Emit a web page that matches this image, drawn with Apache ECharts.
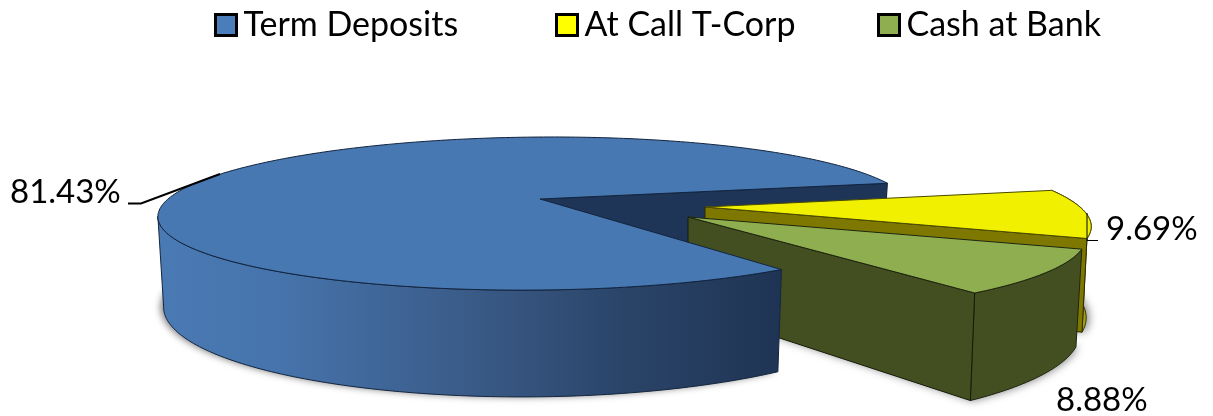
<!DOCTYPE html>
<html>
<head>
<meta charset="utf-8">
<style>html,body{margin:0;padding:0;background:#fff}#c{width:1213px;height:416px}</style>
<script src="https://cdn.jsdelivr.net/npm/echarts@6/dist/echarts.min.js"></script>
</head>
<body>
<div id="c"></div>
<script>
var categories = ['Term Deposits', 'At Call T-Corp', 'Cash at Bank'];
var termDeposits = [81.43];
var atCallTCorp = [9.69];
var cashAtBank = [8.88];
var startAngle = 54;

var FONT = 'Lato, "Open Sans", sans-serif';
var geo = {
  blue:  {ax:540, ay:199, Rr:368, Rl:372, A:73.8, k:0.19, s:-0.2, H:86.5, b:0.985},
  yellow:{ax:705, ay:207, Rr:375, Rl:375, A:78,   k:0.19, s:0.244,H:87, b:0.987},
  green: {ax:688, ay:217, Rr:387, Rl:387, A:79.5, k:0.19, s:0.235,H:91, b:0.985}
};
function pt(g, deg, bottom, r) {
  var a = deg * Math.PI / 180, rr = r === undefined ? 1 : r;
  var u = rr * Math.cos(a), v = rr * Math.sin(a), w = 1 - g.k * v;
  var dy = g.A * v / w;
  var x = (u < 0 ? g.Rl : g.Rr) * u / w + g.s * dy;
  if (bottom) return [g.ax + x * g.b, g.ay + dy + g.H / w];
  return [g.ax + x, g.ay + dy];
}
function arc(g, a, b, bottom) {
  var out = [], n = Math.max(4, Math.ceil(Math.abs(b - a)));
  for (var i = 0; i <= n; i++) out.push(pt(g, a + (b - a) * i / n, bottom));
  return out;
}
function leftmost(g, bottom) {
  var best = 150, bx = Infinity;
  for (var d = 150; d <= 240; d++) { var x = pt(g, d, bottom)[0]; if (x < bx) { bx = x; best = d; } }
  return best;
}
function poly(points, style) { return {type:'polygon', shape:{points:points}, style:style}; }
function line(points, color, width) {
  return {type:'polyline', shape:{points:points}, style:{fill:null, stroke:color, lineWidth:width}};
}
function txt(text, x, y, size) {
  return {type:'text', style:{text:text, x:x, y:y, fill:'#000', font:size + 'px ' + FONT, textAlign:'left', textVerticalAlign:'middle'}};
}
function sweepOf(v) { return v * 3.6; }
var aBlue0 = startAngle, aBlue1 = aBlue0 + sweepOf(termDeposits[0]);
var aYel1 = aBlue1 + sweepOf(atCallTCorp[0]);
var aGrn1 = aYel1 + sweepOf(cashAtBank[0]);
var grad = function (stops) { return new echarts.graphic.LinearGradient(0, 0, 1, 0, stops); };

function renderBlueBack(params, api) {
  var g = geo.blue, c = [];
  var apex = pt(g, 0, false, 0), apexB = pt(g, 0, true, 0);
  c.push(poly([apexB].concat(arc(g, aBlue0, aBlue1, true)), {fill:'#aaa', shadowBlur:7, shadowColor:'rgba(0,0,0,0.5)', shadowOffsetX:-3, shadowOffsetY:0}));
  c.push(poly([apex, pt(g, aBlue1), pt(g, aBlue1, true), apexB], {fill:'#1f3557', stroke:'#0e1e36', lineWidth:1}));
  return {type:'group', children:c};
}
function renderBlue(params, api) {
  var g = geo.blue, val = api.value(0), c = [];
  var apex = pt(g, 0, false, 0);
  var wall = arc(g, aBlue0, leftmost(g, false), false).concat(arc(g, leftmost(g, true), aBlue0, true));
  c.push(poly(wall, {fill:grad([{offset:0,color:'#4a7ab4'},{offset:0.2,color:'#4673ab'},{offset:0.5,color:'#3a5b88'},{offset:0.75,color:'#2a4468'},{offset:1,color:'#1f3454'}]), stroke:'#14263f', lineWidth:1}));
  c.push(poly([apex].concat(arc(g, aBlue0, aBlue1, false)), {fill:'#4878b1', stroke:'#12243f', lineWidth:1}));
  c.push(line([[128,203.5],[141,203.5],[220,174]], '#000', 2));
  c.push(txt(val.toFixed(2) + '%', 10, 192, 33));
  return {type:'group', children:c};
}
function renderYellow(params, api) {
  var g = geo.yellow, val = api.value(0), c = [];
  var apex = pt(g, 0, false, 0), apexB = pt(g, 0, true, 0);
  c.push(poly([apexB].concat(arc(g, aBlue1, aYel1, true)), {fill:'#bbb', shadowBlur:8, shadowColor:'rgba(0,0,0,0.45)', shadowOffsetX:3, shadowOffsetY:0}));
  c.push(poly(arc(g, aBlue1, aYel1, false).concat(arc(g, aYel1, aBlue1, true)), {fill:grad([{offset:0,color:'#d2cc20'},{offset:0.6,color:'#c6c018'},{offset:1,color:'#8f8a10'}]), stroke:'#35330a', lineWidth:1}));
  c.push(poly([apex, pt(g, aYel1), pt(g, aYel1, true), apexB], {fill:'#7f7800', stroke:'#2c2a00', lineWidth:1}));
  c.push(poly([apex].concat(arc(g, aBlue1, aYel1, false)), {fill:'#f0f000', stroke:'#4a4a00', lineWidth:1}));
  c.push(line([[1087,213],[1087,240.5],[1098,240.5]], '#000', 1));
  c.push(txt(val.toFixed(2) + '%', 1106, 229, 33));
  return {type:'group', children:c};
}
function renderGreen(params, api) {
  var g = geo.green, val = api.value(0), c = [];
  var apex = pt(g, 0, false, 0), apexB = pt(g, 0, true, 0);
  c.push(poly([apexB].concat(arc(g, aYel1, aGrn1, true)), {fill:'#aaa', shadowBlur:8, shadowColor:'rgba(0,0,0,0.5)', shadowOffsetX:2, shadowOffsetY:0}));
  c.push(poly(arc(g, aYel1, aGrn1, false).concat(arc(g, aGrn1, aYel1, true)), {fill:'#434f20', stroke:'#1e2510', lineWidth:1}));
  c.push(poly([apex, pt(g, aGrn1), pt(g, aGrn1, true), apexB], {fill:'#434f20', stroke:'#151b08', lineWidth:1}));
  c.push(poly([apex].concat(arc(g, aYel1, aGrn1, false)), {fill:'#8fae50', stroke:'#1e2510', lineWidth:1}));
  c.push(txt(val.toFixed(2) + '%', 1056, 400, 33));
  return {type:'group', children:c};
}
function legendAt(name, left) {
  return {data:[name], left:left, top:8, padding:0, orient:'horizontal', icon:'rect', itemWidth:21, itemHeight:21,
    itemStyle:{borderColor:'#000', borderWidth:3}, selectedMode:false,
    textStyle:{fontFamily:FONT, fontSize:34, color:'#000', padding:[0,0,0,2]}};
}
var chart = echarts.init(document.getElementById('c'), null, {renderer:'canvas'});
chart.setOption({
  animation:false,
  backgroundColor:'#fff',
  legend:[legendAt(categories[0],214), legendAt(categories[1],555), legendAt(categories[2],877)],
  series:[
    {type:'custom', name:categories[0], coordinateSystem:'none', z:2, data:[termDeposits], renderItem:renderBlueBack, itemStyle:{color:'#4a7ebb'}},
    {type:'custom', name:categories[1], coordinateSystem:'none', z:3, data:[atCallTCorp], renderItem:renderYellow, itemStyle:{color:'#ffff00'}},
    {type:'custom', name:categories[2], coordinateSystem:'none', z:4, data:[cashAtBank], renderItem:renderGreen, itemStyle:{color:'#8fae50'}},
    {type:'custom', name:categories[0], coordinateSystem:'none', z:5, data:[termDeposits], renderItem:renderBlue, itemStyle:{color:'#4a7ebb'}}
  ]
});
</script>
</body>
</html>
